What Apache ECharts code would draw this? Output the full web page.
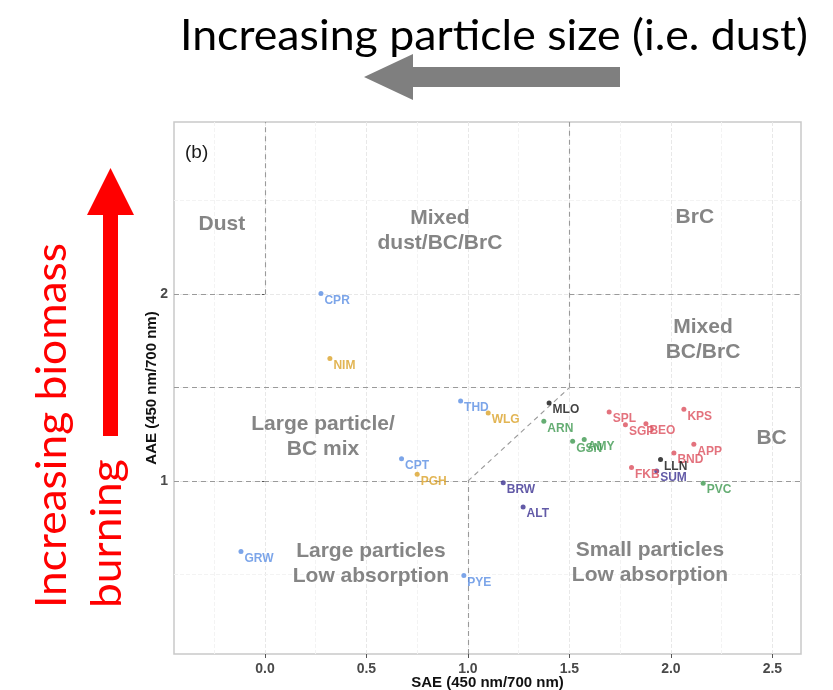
<!DOCTYPE html>
<html>
<head>
<meta charset="utf-8">
<script src="https://cdn.jsdelivr.net/npm/echarts@6/dist/echarts.min.js"></script>
<style>
  html, body { margin: 0; padding: 0; background: #ffffff; }
  #chart { width: 833px; height: 690px; }
</style>
</head>
<body>
<div id="chart"></div>
<script>
// Site observations: scattering (SAE) and absorption (AAE) Angstrom exponents
const siteNames = ['CPR', 'NIM', 'THD', 'WLG', 'CPT', 'PGH', 'GRW', 'PYE',
                   'MLO', 'ARN', 'GSN', 'AMY', 'SPL', 'SGP', 'BEO', 'KPS',
                   'APP', 'BND', 'LLN', 'FKB', 'SUM', 'PVC', 'BRW', 'ALT'];
const saeValues = [0.276, 0.320, 0.964, 1.100, 0.673, 0.750, -0.118, 0.980,
                   1.400, 1.374, 1.516, 1.573, 1.696, 1.776, 1.877, 2.064,
                   2.113, 2.015, 1.949, 1.806, 1.930, 2.159, 1.174, 1.272];
const aaeValues = [2.004, 1.656, 1.428, 1.364, 1.120, 1.036, 0.623, 0.495,
                   1.418, 1.320, 1.213, 1.222, 1.370, 1.301, 1.307, 1.384,
                   1.197, 1.150, 1.115, 1.073, 1.054, 0.989, 0.991, 0.861];
const siteGroups = ['blue', 'gold', 'blue', 'gold', 'blue', 'gold', 'blue', 'blue',
                    'black', 'green', 'green', 'green', 'red', 'red', 'red', 'red',
                    'red', 'red', 'black', 'red', 'purple', 'green', 'purple', 'purple'];

// Axis ticks
const xTicks = [0, 0.5, 1, 1.5, 2, 2.5];
const xMinorTicks = [-0.25, 0.25, 0.75, 1.25, 1.75, 2.25];
const yTicks = [1, 2];
const yMinorTicks = [0.5, 1.5, 2.5];

// Classification thresholds
const saeThresholds = [0, 1, 1.5];
const aaeThresholds = [1, 1.5, 2];

// Region names and where they sit (SAE, AAE)
const regionNames = ['Dust', 'Mixed\ndust/BC/BrC', 'BrC', 'Mixed\nBC/BrC',
                     'Large particle/\nBC mix', 'BC',
                     'Large particles\nLow absorption', 'Small particles\nLow absorption'];
const regionSae = [-0.212, 0.862, 2.118, 2.158, 0.286, 2.496, 0.522, 1.897];
const regionAae = [2.375, 2.341, 2.414, 1.759, 1.240, 1.227, 0.559, 0.563];

// ---------- styling & layout ----------
const groupColors = {
  blue: '#5b8fe3', gold: '#dba329', black: '#111111',
  green: '#3f9950', red: '#dc4f5c', purple: '#3b3191'
};
const X_MIN = -0.448, X_MAX = 2.641, Y_MIN = 0.075, Y_MAX = 2.921;
const boldSans = 'Liberation Sans, Arial, Helvetica, sans-serif';
const handFont = 'Lato';

function measure(text, font) {
  const ctx = document.createElement('canvas').getContext('2d');
  ctx.font = font;
  return ctx.measureText(text).width;
}

// gridlines
const gridLines = [];
xTicks.forEach(v => gridLines.push({ xAxis: v, lineStyle: { color: '#e8e8e8', width: 1 } }));
xMinorTicks.forEach(v => gridLines.push({ xAxis: v, lineStyle: { color: '#f3f3f3', width: 1 } }));
yTicks.forEach(v => gridLines.push({ yAxis: v, lineStyle: { color: '#e8e8e8', width: 1 } }));
yMinorTicks.forEach(v => gridLines.push({ yAxis: v, lineStyle: { color: '#f3f3f3', width: 1 } }));

// dashed class boundaries
const [s0, s1, s15] = saeThresholds;
const [a1, a15, a2] = aaeThresholds;
const seg = (x1, y1, x2, y2) => [{ coord: [x1, y1] }, { coord: [x2, y2] }];
const boundaryLines = [
  seg(X_MIN, a2, s0, a2),
  seg(s0, a2, s0, Y_MAX),
  seg(s15, a2, X_MAX, a2),
  seg(s15, a15, s15, Y_MAX),
  seg(X_MIN, a15, X_MAX, a15),
  seg(X_MIN, a1, X_MAX, a1),
  seg(s1, Y_MIN, s1, a1),
  seg(s1, a1, s15, a15)
];

// scatter series, one per colour group
const groupOrder = ['blue', 'gold', 'green', 'red', 'purple', 'black'];
const pointSeries = groupOrder.map(g => ({
  type: 'scatter',
  z: 5,
  symbolSize: 5,
  itemStyle: { color: groupColors[g] },
  label: {
    show: true,
    formatter: '{b}',
    position: 'right',
    distance: 1,
    offset: [0, 7],
    color: groupColors[g],
    fontFamily: boldSans,
    fontWeight: 'bold',
    fontSize: 12
  },
  emphasis: { disabled: true },
  data: siteNames.map((n, i) => ({ name: n, value: [saeValues[i], aaeValues[i]], g: siteGroups[i] }))
                 .filter(d => d.g === g)
                 .map(d => ({ name: d.name, value: d.value }))
}));

const regionSeries = {
  type: 'scatter',
  z: 3,
  symbolSize: 0,
  silent: true,
  label: {
    show: true,
    position: 'inside',
    formatter: '{b}',
    color: '#666666',
    fontFamily: boldSans,
    fontWeight: 'bold',
    fontSize: 21,
    lineHeight: 25,
    align: 'center',
    verticalAlign: 'middle'
  },
  data: regionNames.map((n, i) => ({ name: n, value: [regionSae[i], regionAae[i]] }))
};

const linesSeries = {
  type: 'scatter',
  data: [],
  silent: true,
  z: 1,
  markLine: {
    silent: true, symbol: ['none', 'none'], label: { show: false },
    animation: false, z: 1,
    data: gridLines
  }
};
const boundarySeries = {
  type: 'scatter',
  data: [],
  silent: true,
  z: 2,
  markLine: {
    silent: true, symbol: ['none', 'none'], label: { show: false },
    animation: false, z: 2,
    lineStyle: { color: '#9a9a9a', type: [5, 4], width: 1.1 },
    data: boundaryLines
  }
};

// annotation text sizing
const topText = 'Increasing particle size (i.e. dust)';
const topFont = '42px ' + handFont;
const topScale = 628 / measure(topText, topFont);
const redLine1 = 'Increasing biomass';
const redLine2 = 'burning';
const redScale = 365 / measure(redLine1, topFont);

const chart = echarts.init(document.getElementById('chart'), null, { renderer: 'canvas' });
chart.setOption({
  animation: false,
  backgroundColor: '#ffffff',
  grid: {
    left: 174, right: 32, top: 122, bottom: 36,
    containLabel: false, outerBoundsMode: 'none',
    show: true, borderColor: '#c9c9c9', borderWidth: 1.5, backgroundColor: 'transparent'
  },
  xAxis: {
    type: 'value', min: X_MIN, max: X_MAX,
    name: 'SAE (450 nm/700 nm)', nameLocation: 'middle', nameGap: 21, nameMoveOverlap: false,
    nameTextStyle: { fontFamily: boldSans, fontWeight: 'bold', fontSize: 15, color: '#111' },
    axisLine: { show: false },
    splitLine: { show: false },
    axisTick: { show: true, customValues: xTicks, length: 4, lineStyle: { color: '#555' } },
    axisLabel: {
      customValues: xTicks, formatter: v => v.toFixed(1), margin: 8,
      fontFamily: boldSans, fontWeight: 'bold', fontSize: 14, color: '#4a4a4a'
    }
  },
  yAxis: {
    type: 'value', min: Y_MIN, max: Y_MAX,
    name: 'AAE (450 nm/700 nm)', nameLocation: 'middle', nameGap: 15, nameMoveOverlap: false,
    nameTextStyle: { fontFamily: boldSans, fontWeight: 'bold', fontSize: 15, color: '#111' },
    axisLine: { show: false },
    splitLine: { show: false },
    axisTick: { show: true, customValues: yTicks, length: 4, lineStyle: { color: '#555' } },
    axisLabel: {
      customValues: yTicks, formatter: v => String(v), margin: 6,
      fontFamily: boldSans, fontWeight: 'bold', fontSize: 14, color: '#4a4a4a'
    }
  },
  series: [linesSeries, boundarySeries, regionSeries].concat(pointSeries),
  graphic: [
    {
      type: 'text', x: 494, y: 36, scaleX: topScale, originX: 0, originY: 0,
      style: { text: topText, x: 0, y: 0, align: 'center', verticalAlign: 'middle',
               font: topFont, fill: '#000000' }
    },
    {
      type: 'polygon',
      shape: { points: [[364, 77], [413, 54], [413, 67], [620, 67], [620, 87], [413, 87], [413, 100]] },
      style: { fill: '#7f7f7f' }
    },
    {
      type: 'polygon',
      shape: { points: [[110.5, 168], [134, 215], [118, 215], [118, 436], [103, 436], [103, 215], [87, 215]] },
      style: { fill: '#ff0000' }
    },
    {
      type: 'text', x: 52, y: 608, rotation: Math.PI / 2, scaleX: redScale,
      style: { text: redLine1, x: 0, y: 0, align: 'left', verticalAlign: 'middle',
               font: topFont, fill: '#ff0000' }
    },
    {
      type: 'text', x: 107, y: 608, rotation: Math.PI / 2, scaleX: redScale,
      style: { text: redLine2, x: 0, y: 0, align: 'left', verticalAlign: 'middle',
               font: topFont, fill: '#ff0000' }
    },
    {
      type: 'text', x: 185, y: 153,
      style: { text: '(b)', align: 'left', verticalAlign: 'middle',
               font: '19px ' + boldSans, fill: '#1a1a1a' }
    }
  ]
});
</script>
</body>
</html>
